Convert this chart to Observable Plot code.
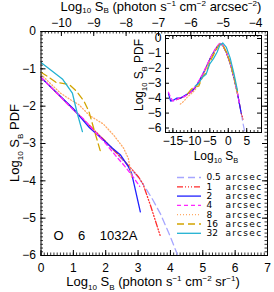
<!DOCTYPE html>
<html><head><meta charset="utf-8">
<script src="https://cdn.jsdelivr.net/npm/d3@7"></script>
<script src="https://cdn.jsdelivr.net/npm/@observablehq/plot@0.6"></script>
<style>
html,body{margin:0;padding:0;background:#fff;}
#wrap{position:relative;width:274px;height:292px;overflow:hidden;}
#wrap svg{position:absolute;overflow:visible;}
</style></head><body><div id="wrap"></div>
<script>
const FONT = "Liberation Sans, Arial, sans-serif";
const FS = 12;
const LEG_FS = 9;
const SR_TO_ARCSEC = 10.63; // log10(arcsec^2 per sr)

// ---------- series definitions ----------
const seriesNames  = ["0.5", "1", "2", "4", "8", "16", "32"];
const seriesColors = ["#a6a6ff", "#ff2a2a", "#2020ff", "#ff25ff", "#ffaa66", "#d2a400", "#22b2d2"];
const seriesDash   = ["7,4", "6,2,1,2,1,2,1,2", null, "4,3", "1,2", "7,4", null];

// ---------- main panel: log10 SB (sr) vs log10 PDF ----------
const mainX05 = [0, 0.5, 1, 1.5, 2, 2.5, 2.8, 3.0, 3.2, 3.45, 3.7, 4.0, 4.25];
const mainY05 = [-1.23, -1.66, -2.1, -2.53, -2.96, -3.42, -3.7, -3.9, -4.15, -4.5, -4.9, -5.5, -6.05];
const mainX1  = [0, 0.5, 1, 1.5, 2, 2.5, 2.8, 3.0, 3.15, 3.4, 3.68];
const mainY1  = [-1.23, -1.66, -2.09, -2.52, -2.95, -3.4, -3.68, -3.88, -4.08, -4.7, -5.46];
const mainX2  = [0, 0.5, 1, 1.5, 2, 2.2, 2.45, 2.7, 2.8, 2.88, 3.07];
const mainY2  = [-1.23, -1.65, -2.07, -2.58, -2.96, -3.12, -3.3, -3.62, -3.8, -4.1, -4.83];
const mainX4  = [0, 0.5, 1, 1.3, 1.7, 2.0, 2.3, 2.6, 2.85, 3.05];
const mainY4  = [-1.23, -1.66, -2.1, -2.33, -2.72, -3.0, -3.32, -3.62, -3.9, -4.15];
const mainX8  = [0, 0.3, 0.6, 0.9, 1.17, 1.5, 1.93, 2.25, 2.55, 2.7, 2.8];
const mainY8  = [-1.15, -1.4, -1.65, -1.82, -1.96, -2.25, -2.48, -2.78, -3.12, -3.4, -3.9];
const mainX16 = [0, 0.2, 0.46, 0.87, 1.1, 1.33, 1.48, 1.64, 1.84];
const mainY16 = [-1.09, -1.2, -1.36, -1.42, -1.6, -1.87, -2.14, -2.63, -3.22];
const mainX32 = [0, 0.33, 0.66, 0.97, 1.12, 1.28];
const mainY32 = [-0.83, -1.05, -1.27, -1.65, -2.19, -2.68];
const mainXs = [mainX05, mainX1, mainX2, mainX4, mainX8, mainX16, mainX32];
const mainYs = [mainY05, mainY1, mainY2, mainY4, mainY8, mainY16, mainY32];

// ---------- inset: full distribution ----------
const insetGrid = [-16.2, -15.6, -15, -14, -13, -12, -11, -10, -9, -8, -7, -6, -5, -4, -3, -2.3, -1.5, -0.5, 0.5, 1.5, 2.5, 3, 3.5, 4, 4.5];
const insetY05 = [NaN, NaN, NaN, NaN, -4.0, -3.9, -3.75, -3.55, -3.3, -2.9, -2.45, -1.95, -1.4, -0.95, -0.55, -0.35, -0.45, -0.95, -1.65, -2.6, -3.7, -4.35, -5.0, -5.7, -6.3];
const insetY1  = [NaN, NaN, NaN, -4.1, -4.0, -3.9, -3.75, -3.6, -3.3, -2.9, -2.45, -1.95, -1.4, -0.95, -0.55, -0.35, -0.45, -0.95, -1.65, -2.6, -3.7, -4.35, -5.0, -5.4, NaN];
const insetY2  = [-3.7, -4.2, -4.15, -4.0, -4.0, -3.85, -3.7, -3.55, -3.3, -2.9, -2.45, -1.95, -1.4, -0.95, -0.55, -0.35, -0.45, -0.95, -1.65, -2.6, -3.7, -4.35, -5.0, NaN, NaN];
const insetY4  = [-3.6, -3.95, -4.2, -4.1, -3.95, -3.9, -3.75, -3.55, -3.25, -2.85, -2.4, -1.9, -1.35, -0.9, -0.5, -0.33, -0.42, -0.92, -1.6, -2.55, -3.65, -4.3, NaN, NaN, NaN];
const insetY8  = [NaN, NaN, NaN, NaN, -4.4, -4.2, -3.9, -3.7, -3.45, -3.05, -2.6, -2.05, -1.5, -1.0, -0.6, -0.38, -0.45, -0.95, -1.65, -2.6, -3.8, NaN, NaN, NaN, NaN];
const insetY16 = [NaN, NaN, NaN, NaN, NaN, NaN, -3.7, -3.4, -3.2, -3.2, -2.6, -2.3, -1.6, -1.1, -0.65, -0.4, -0.45, -0.9, -1.6, -2.5, -3.6, NaN, NaN, NaN, NaN];
const insetY32 = [NaN, NaN, NaN, NaN, NaN, NaN, NaN, NaN, -3.2, -3.0, -2.6, -2.4, -1.7, -1.35, -0.9, -0.45, -0.3, -0.6, -1.3, -2.3, -3.5, NaN, NaN, NaN, NaN];
const insetYs = [insetY05, insetY1, insetY2, insetY4, insetY8, insetY16, insetY32];

// ---------- ticks & labels ----------
const mainXTicks = [0, 1, 2, 3, 4, 5, 6, 7];
const mainYTicks = [0, -1, -2, -3, -4, -5, -6];
const topTicks   = [-10, -9, -8, -7, -6, -5, -4];
const insetXTicks = [-15, -10, -5, 0, 5];
const insetYTicks = [0, -1, -2, -3, -4, -5, -6];
const lineLabel = "O\u00a0\u00a0\u00a0\u00a06\u00a0\u00a0\u00a0\u00a01032A";
const unitText = "arcsec";

const fmt = d3.format("d");

function rows(xs, ys) {
  return xs.map((x, i) => ({x, y: ys[i]})).filter(d => Number.isFinite(d.y));
}

function richText(svg, x, y, parts, opts = {}) {
  const size = opts.size || FS;
  const t = d3.select(svg).append("text")
    .attr("x", x).attr("y", y)
    .attr("text-anchor", opts.anchor || "middle")
    .attr("font-family", FONT).attr("font-size", size).attr("fill", "black");
  if (opts.rotate) t.attr("transform", `rotate(${opts.rotate},${x},${y})`);
  let shift = 0;
  for (const [s, k] of parts) {
    const target = k === "sub" ? (opts.subShift ?? 3.5) : k === "sup" ? -5 : 0;
    const sp = t.append("tspan").text(s).attr("dy", target - shift);
    if (k) sp.attr("font-size", size * 0.62);
    shift = target;
  }
}

// ---------- main plot ----------
const W = 274, H = 292, ML = 40.5, MR = 7, MT = 31, MB = 37;
const iW = W - ML - MR, iH = H - MT - MB;
const xDom = [0, 7], yDom = [-6, 0];
const minorX = d3.range(0, 71).map(i => i / 10);
const minorY = d3.range(-60, 1).map(i => i / 10);
const topMinor = d3.range(-106, -36).map(i => i / 10 + SR_TO_ARCSEC).filter(v => v >= 0 && v <= 7);
const topMajor = topTicks.map(t => t + SR_TO_ARCSEC);

// legend placement in data units
const pxToX = px => (px - ML) / iW * (xDom[1] - xDom[0]) + xDom[0];
const pxToY = py => yDom[1] - (py - MT) / iH * (yDom[1] - yDom[0]);
const legX1 = pxToX(177), legX2 = pxToX(201), legNum = pxToX(206), legUnit = pxToX(225);
const legY = i => pxToY(177 + i * 9.3);

const mainMarks = [
  Plot.ruleX(minorX, {x: d => d, insetTop: iH - 2.5, strokeWidth: 0.8}),
  Plot.ruleX(mainXTicks, {x: d => d, insetTop: iH - 5}),
  Plot.ruleX(topMinor, {x: d => d, insetBottom: iH - 2.5, strokeWidth: 0.8}),
  Plot.ruleX(topMajor, {x: d => d, insetBottom: iH - 5}),
  Plot.ruleY(minorY, {y: d => d, insetRight: iW - 2.5, strokeWidth: 0.8}),
  Plot.ruleY(mainYTicks, {y: d => d, insetRight: iW - 5}),
  Plot.ruleY(minorY, {y: d => d, insetLeft: iW - 2.5, strokeWidth: 0.8}),
  Plot.ruleY(mainYTicks, {y: d => d, insetLeft: iW - 5}),
  Plot.axisX({anchor: "bottom", ticks: mainXTicks, tickSize: 0, tickPadding: 8, label: null, tickFormat: fmt}),
  Plot.axisX({anchor: "top", ticks: topMajor, tickSize: 0, tickPadding: 5, label: null,
              tickFormat: d => fmt(Math.round(d - SR_TO_ARCSEC))}),
  Plot.axisY({anchor: "left", ticks: mainYTicks, tickSize: 0, tickPadding: 5, label: null, tickFormat: fmt}),
];
seriesNames.forEach((name, i) => {
  mainMarks.push(Plot.line(rows(mainXs[i], mainYs[i]), {
    x: "x", y: "y", stroke: seriesColors[i], strokeWidth: 1.3,
    strokeDasharray: seriesDash[i] || undefined, clip: true
  }));
  mainMarks.push(Plot.ruleY([legY(i)], {
    y: d => d, x1: legX1, x2: legX2, stroke: seriesColors[i], strokeWidth: 1.3,
    strokeDasharray: seriesDash[i] || undefined
  }));
});
const legStyle = {textAnchor: "start", fontSize: LEG_FS, fontFamily: "DejaVu Sans"};
mainMarks.push(Plot.text(seriesNames, {x: legNum, y: (d, i) => legY(i), text: d => d, ...legStyle}));
mainMarks.push(Plot.text(seriesNames, {x: legUnit, y: (d, i) => legY(i), text: () => unitText, ...legStyle}));
mainMarks.push(Plot.text([lineLabel], {x: pxToX(53), y: pxToY(235), text: d => d, textAnchor: "start", fontSize: 13}));
mainMarks.push(Plot.frame({stroke: "black", strokeWidth: 1}));

const mainSvg = Plot.plot({
  width: W, height: H, marginLeft: ML, marginRight: MR, marginTop: MT, marginBottom: MB,
  x: {domain: xDom}, y: {domain: yDom},
  style: {fontFamily: FONT, fontSize: FS + "px", background: "transparent", color: "black"},
  marks: mainMarks
});
mainSvg.style.left = "0px"; mainSvg.style.top = "0px";
document.getElementById("wrap").appendChild(mainSvg);
// widen "arcsec" glyph spacing like the original vector font
d3.select(mainSvg).selectAll("text").filter(function () {
  return this.textContent === unitText;
}).attr("letter-spacing", 1.3);

const sbParts = [["Log", ""], ["10", "sub"], [" S", ""], ["B", "sub"]];
richText(mainSvg, 153, 286, [...sbParts, [" (photon s", ""], ["\u22121", "sup"], [" cm", ""], ["\u22122", "sup"], [" sr", ""], ["\u22121", "sup"], [")", ""]], {size: 13});
richText(mainSvg, 161, 10.5, [...sbParts, [" (photon s", ""], ["\u22121", "sup"], [" cm", ""], ["\u22122", "sup"], [" arcsec", ""], ["\u22122", "sup"], [")", ""]], {size: 13, subShift: 2.5});
richText(mainSvg, 19, 143, [...sbParts, [" PDF", ""]], {rotate: -90, size: 13});

// ---------- inset ----------
const IW = 136, IH = 135, IML = 35, IMR = 5, IMT = 7, IMB = 31;
const iiW = IW - IML - IMR, iiH = IH - IMT - IMB;
const insetMinorX = d3.range(-17, 10);
const insetMarks = [
  Plot.ruleX(insetMinorX, {x: d => d, insetTop: iiH - 2, strokeWidth: 0.8}),
  Plot.ruleX(insetXTicks, {x: d => d, insetTop: iiH - 4}),
  Plot.ruleX(insetMinorX, {x: d => d, insetBottom: iiH - 2, strokeWidth: 0.8}),
  Plot.ruleX(insetXTicks, {x: d => d, insetBottom: iiH - 4}),
  Plot.ruleY(insetYTicks, {y: d => d, insetRight: iiW - 4}),
  Plot.ruleY(insetYTicks, {y: d => d, insetLeft: iiW - 4}),
  Plot.axisX({anchor: "bottom", ticks: insetXTicks, tickSize: 0, tickPadding: 4, label: null, tickFormat: fmt}),
  Plot.axisY({anchor: "left", ticks: insetYTicks, tickSize: 0, tickPadding: 4, label: null, tickFormat: fmt}),
];
seriesNames.forEach((name, i) => {
  insetMarks.push(Plot.line(rows(insetGrid, insetYs[i]), {
    x: "x", y: "y", stroke: seriesColors[i], strokeWidth: 1.2,
    strokeDasharray: seriesDash[i] || undefined, clip: true
  }));
});
insetMarks.push(Plot.frame({stroke: "black", strokeWidth: 1}));
const insetSvg = Plot.plot({
  width: IW, height: IH, marginLeft: IML, marginRight: IMR, marginTop: IMT, marginBottom: IMB,
  x: {domain: [-17, 9]}, y: {domain: [-6.3, 0.2]},
  style: {fontFamily: FONT, fontSize: FS + "px", background: "transparent", color: "black"},
  marks: insetMarks
});
insetSvg.style.left = "130px"; insetSvg.style.top = "28px";
document.getElementById("wrap").appendChild(insetSvg);
richText(insetSvg, 86, 132, sbParts, {size: 12, subShift: 3});
richText(insetSvg, 13, 47, [...sbParts, [" PDF", ""]], {rotate: -90, size: 12});
</script></body></html>
